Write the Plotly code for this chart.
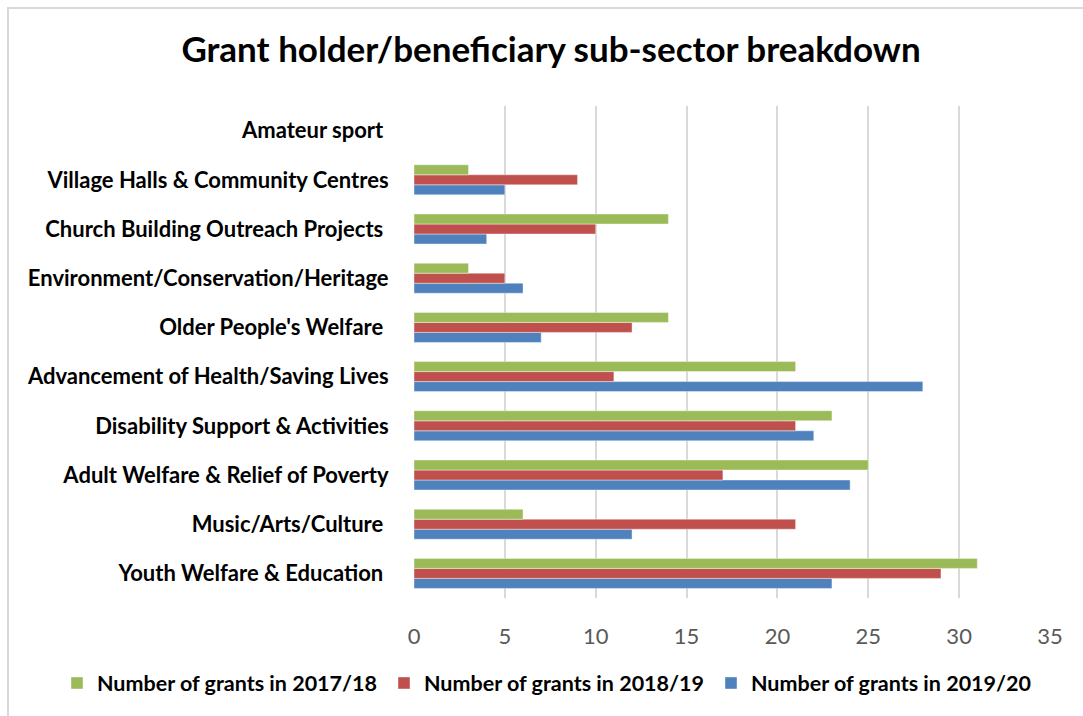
import plotly.graph_objects as go

categories = [
    "Youth Welfare & Education\u00a0",
    "Music/Arts/Culture\u00a0",
    "Adult Welfare & Relief of Poverty",
    "Disability Support & Activities",
    "Advancement of Health/Saving Lives",
    "Older People's Welfare\u00a0",
    "Environment/Conservation/Heritage",
    "Church Building Outreach Projects\u00a0",
    "Village Halls & Community Centres",
    "Amateur sport\u00a0",
]
grants_2017_18 = [31, 6, 25, 23, 21, 14, 3, 14, 3, 0]
grants_2018_19 = [29, 21, 17, 21, 11, 12, 5, 10, 9, 0]
grants_2019_20 = [23, 12, 24, 22, 28, 7, 6, 4, 5, 0]

W, H = 1083, 716
L, R, T, B = 414, 1050, 106, 598

fig = go.Figure()
fig.add_trace(go.Bar(y=categories, x=grants_2019_20, orientation="h",
                     name="<b>Number of grants in 2019/20</b>",
                     marker=dict(color="#4F81BD", line=dict(color="rgba(255,255,255,0.4)", width=1))))
fig.add_trace(go.Bar(y=categories, x=grants_2018_19, orientation="h",
                     name="<b>Number of grants in 2018/19</b>",
                     marker=dict(color="#C0504D", line=dict(color="rgba(255,255,255,0.4)", width=1))))
fig.add_trace(go.Bar(y=categories, x=grants_2017_18, orientation="h",
                     name="<b>Number of grants in 2017/18</b>",
                     marker=dict(color="#9BBB59", line=dict(color="rgba(255,255,255,0.4)", width=1))))

def px_x(x):
    return (x - L) / (R - L)

def px_y(y):
    return (B - y) / (B - T)

fig.update_layout(
    width=W, height=H,
    margin=dict(l=L, r=W - R, t=T, b=H - B),
    paper_bgcolor="white", plot_bgcolor="white",
    font=dict(family="Lato, Carlito, sans-serif", color="black"),
    barmode="group", bargap=0.39, bargroupgap=0,
    title=dict(text="<b>Grant holder/beneficiary sub-sector breakdown</b>",
               font=dict(size=35, color="black"),
               x=px_x(551), xanchor="center", xref="paper",
               y=1 - 50 / H, yanchor="middle"),
    xaxis=dict(range=[0, 35], dtick=5, showgrid=True, gridcolor="#d9d9d9", gridwidth=2,
               zeroline=False, showline=False,
               tickfont=dict(size=22, color="#595959"),
               ticks="outside", ticklen=19, tickcolor="rgba(0,0,0,0)"),
    yaxis=dict(showgrid=False, zeroline=False, showline=False,
               tickfont=dict(size=22, color="black"),
               ticks="outside", ticklen=20, tickcolor="rgba(0,0,0,0)",
               tickvals=categories,
               ticktext=["<b>%s</b>" % c for c in categories]),
    legend=dict(orientation="h", traceorder="reversed",
                x=px_x(57), xanchor="left", y=px_y(683), yanchor="middle",
                font=dict(size=21.5, color="black"), itemwidth=30,
                entrywidth=282, entrywidthmode="pixels",
                bgcolor="rgba(0,0,0,0)"),
    showlegend=True,
    shapes=[dict(type="rect", xref="paper", yref="paper",
                 x0=px_x(8), x1=px_x(1095), y0=px_y(725), y1=px_y(8),
                 line=dict(color="#d9d9d9", width=2), layer="below")],
)

fig.write_html("out.html")
